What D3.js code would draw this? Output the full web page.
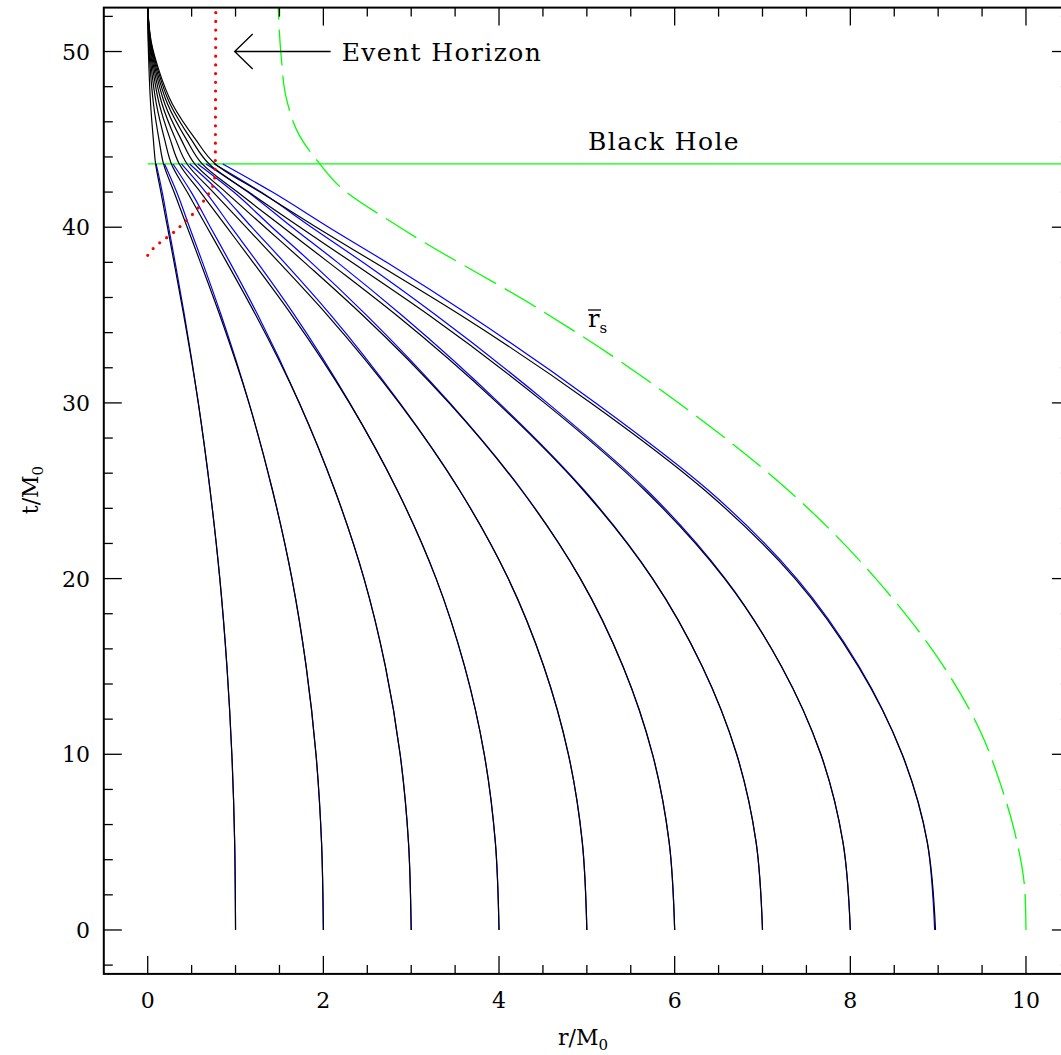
<!DOCTYPE html>
<html>
<head>
<meta charset="utf-8">
<script src="https://cdn.jsdelivr.net/npm/d3@7"></script>
<style>
  body { margin: 0; background: #fff; }
  svg { display: block; }
  text { font-family: "DejaVu Serif", serif; fill: #000; }
</style>
</head>
<body>
<div id="chart"></div>
<script>
// shell trajectories r(t), r in M0, t in M0
const tLevels = [0, 5, 10, 15, 20, 25, 30, 35, 38, 40, 42, 43.6, 45, 47, 49, 50.5, 52.5];

const blackShells = [
  [1.00, 0.99, 0.958, 0.902, 0.821, 0.711, 0.576, 0.41, 0.30, 0.225, 0.15, 0.09, 0.064, 0.033, 0.0145, 0.005, 0],
  [2.00, 1.979, 1.916, 1.804, 1.642, 1.422, 1.152, 0.82, 0.60, 0.45, 0.30, 0.18, 0.128, 0.066, 0.029, 0.01, 0],
  [3.00, 2.969, 2.874, 2.706, 2.463, 2.133, 1.725, 1.23, 0.90, 0.675, 0.45, 0.27, 0.192, 0.099, 0.043, 0.015, 0],
  [4.00, 3.958, 3.832, 3.608, 3.284, 2.844, 2.296, 1.64, 1.20, 0.90, 0.60, 0.36, 0.256, 0.132, 0.058, 0.02, 0],
  [5.00, 4.948, 4.79, 4.51, 4.105, 3.553, 2.863, 2.045, 1.495, 1.12, 0.745, 0.448, 0.318, 0.164, 0.072, 0.025, 0],
  [6.00, 5.937, 5.748, 5.412, 4.926, 4.26, 3.43, 2.445, 1.785, 1.335, 0.888, 0.535, 0.38, 0.196, 0.086, 0.03, 0],
  [7.00, 6.927, 6.706, 6.314, 5.747, 4.965, 3.98, 2.83, 2.06, 1.54, 1.022, 0.62, 0.44, 0.227, 0.099, 0.034, 0],
  [8.00, 7.916, 7.664, 7.216, 6.568, 5.665, 4.518, 3.20, 2.325, 1.735, 1.15, 0.70, 0.495, 0.256, 0.112, 0.038, 0],
  [8.97, 8.876, 8.59, 8.09, 7.37, 6.35, 5.046, 3.56, 2.58, 1.92, 1.28, 0.77, 0.545, 0.282, 0.123, 0.042, 0]
];

// blue shells stop at the black hole time
const blueTLevels = [0, 5, 10, 15, 20, 25, 30, 35, 38, 40, 42, 43.6];
const blueShells = [
  [1.00, 0.99, 0.958, 0.902, 0.821, 0.711, 0.576, 0.418, 0.312, 0.238, 0.165, 0.096],
  [2.00, 1.979, 1.916, 1.804, 1.642, 1.422, 1.153, 0.836, 0.624, 0.476, 0.33, 0.192],
  [3.00, 2.969, 2.874, 2.706, 2.463, 2.133, 1.727, 1.254, 0.936, 0.714, 0.495, 0.288],
  [4.00, 3.958, 3.832, 3.608, 3.284, 2.844, 2.30, 1.672, 1.248, 0.952, 0.66, 0.384],
  [5.00, 4.948, 4.79, 4.51, 4.105, 3.555, 2.87, 2.085, 1.555, 1.185, 0.822, 0.478],
  [6.00, 5.937, 5.748, 5.412, 4.926, 4.265, 3.44, 2.49, 1.86, 1.415, 0.98, 0.57],
  [7.00, 6.927, 6.706, 6.314, 5.75, 4.975, 4.00, 2.89, 2.16, 1.645, 1.14, 0.665],
  [8.00, 7.916, 7.664, 7.216, 6.575, 5.69, 4.55, 3.28, 2.45, 1.865, 1.29, 0.758],
  [8.96, 8.876, 8.59, 8.10, 7.39, 6.39, 5.10, 3.66, 2.72, 2.06, 1.42, 0.855]
];

// surface radius r-bar_s (green dashed)
const surfaceR = [10.0, 9.99, 9.87, 9.71, 9.49, 8.94, 8.50, 8.29, 7.3, 6.045, 5.34, 4.47, 2.87, 2.19, 1.96, 1.73, 1.58, 1.52, 1.486];
const surfaceT = [0, 2.0, 5.6, 8.3, 11.2, 15.9, 18.76, 20, 25, 30, 32.5, 35.3, 40.0, 42.3, 43.6, 45.2, 47.3, 49.7, 52.5];

// horizon (red dotted)
const horizonR = [0, 0.08, 0.16, 0.24, 0.32, 0.40, 0.47, 0.54, 0.61, 0.68, 0.73, 0.76, 0.765, 0.77, 0.775];
const horizonT = [38.4, 38.9, 39.2, 39.5, 39.8, 40.2, 40.5, 40.9, 41.3, 41.8, 42.2, 42.6, 43.1, 43.6, 52.5];

const blackHoleT = 43.6;
const xMajor = [0, 2, 4, 6, 8, 10];
const yMajor = [0, 10, 20, 30, 40, 50];

const width = 1061, height = 1055;
const x = d3.scaleLinear().domain([-0.5, 10.5]).range([103.8, 1069.9]);
const y = d3.scaleLinear().domain([-2.5, 52.5]).range([973.9, 7.6]);

const svg = d3.select("#chart").append("svg")
  .attr("width", width).attr("height", height);

svg.append("defs").append("clipPath").attr("id", "plot")
  .append("rect")
  .attr("x", x(-0.5)).attr("y", y(52.5))
  .attr("width", x(10.5) - x(-0.5)).attr("height", y(-2.5) - y(52.5));

const line = d3.line().x((d) => x(d[0])).y((d) => y(d[1]));
const smooth = d3.line().curve(d3.curveMonotoneY).x((d) => x(d[0])).y((d) => y(d[1]));
const plot = svg.append("g").attr("clip-path", "url(#plot)");

// black hole line
plot.append("line")
  .attr("x1", x(0)).attr("x2", x(10.5))
  .attr("y1", y(blackHoleT)).attr("y2", y(blackHoleT))
  .attr("stroke", "#00ff00").attr("stroke-width", 1.3);

// blue shells
blueShells.forEach((rs) => {
  plot.append("path")
    .attr("d", smooth(rs.map((r, i) => [r, blueTLevels[i]])))
    .attr("fill", "none").attr("stroke", "#0000ff").attr("stroke-width", 1.2);
});

// black shells
blackShells.forEach((rs) => {
  plot.append("path")
    .attr("d", smooth(rs.map((r, i) => [r, tLevels[i]])))
    .attr("fill", "none").attr("stroke", "#000").attr("stroke-width", 1.2);
});

// surface
plot.append("path")
  .attr("d", smooth(surfaceR.map((r, i) => [r, surfaceT[i]])))
  .attr("fill", "none").attr("stroke", "#00ff00").attr("stroke-width", 1.3)
  .attr("stroke-dasharray", "36,10");

// horizon
plot.append("path")
  .attr("d", line(horizonR.map((r, i) => [r, horizonT[i]])))
  .attr("fill", "none").attr("stroke", "#ff0000").attr("stroke-width", 3.2)
  .attr("stroke-linecap", "round").attr("stroke-dasharray", "0,8.7");

// frame and ticks
const frame = svg.append("g").attr("stroke", "#000");
frame.append("rect")
  .attr("x", x(-0.5)).attr("y", y(52.5))
  .attr("width", x(10.5) - x(-0.5)).attr("height", y(-2.5) - y(52.5))
  .attr("fill", "none").attr("stroke-width", 2);

const xTicks = d3.range(0, 10.51, 0.5);
const yTicks = d3.range(-2, 52.1, 2);
xTicks.forEach((v) => {
  const len = xMajor.includes(v) ? 18 : 9;
  frame.append("line").attr("x1", x(v)).attr("x2", x(v))
    .attr("y1", y(-2.5)).attr("y2", y(-2.5) - len).attr("stroke-width", 1.3);
  frame.append("line").attr("x1", x(v)).attr("x2", x(v))
    .attr("y1", y(52.5)).attr("y2", y(52.5) + len).attr("stroke-width", 1.3);
});
yTicks.forEach((v) => {
  const len = yMajor.includes(v) ? 18 : 9;
  frame.append("line").attr("y1", y(v)).attr("y2", y(v))
    .attr("x1", x(-0.5)).attr("x2", x(-0.5) + len).attr("stroke-width", 1.3);
  frame.append("line").attr("y1", y(v)).attr("y2", y(v))
    .attr("x1", x(10.5)).attr("x2", x(10.5) - len).attr("stroke-width", 1.3);
});

svg.append("g").selectAll("text").data(xMajor).join("text")
  .attr("x", (d) => x(d)).attr("y", 1008)
  .attr("text-anchor", "middle").attr("font-size", 22)
  .text((d) => d);

svg.append("g").selectAll("text").data(yMajor).join("text")
  .attr("x", 90).attr("y", (d) => y(d) + 8)
  .attr("text-anchor", "end").attr("font-size", 22)
  .text((d) => d);

// axis titles
const xt = svg.append("text").attr("x", 583).attr("y", 1045)
  .attr("text-anchor", "middle").attr("font-size", 22);
xt.append("tspan").text("r/M");
xt.append("tspan").attr("font-size", 15).attr("dy", 5).text("0");

const yt = svg.append("text")
  .attr("transform", "translate(38,490) rotate(-90)")
  .attr("text-anchor", "middle").attr("font-size", 22);
yt.append("tspan").text("t/M");
yt.append("tspan").attr("font-size", 15).attr("dy", 5).text("0");

// annotations
const ann = svg.append("g");
const tipX = x(0.99), tipY = y(50);
ann.append("path")
  .attr("d", `M${tipX + 96},${tipY}H${tipX}M${tipX + 18},${tipY - 17.5}L${tipX},${tipY}L${tipX + 18},${tipY + 17.5}`)
  .attr("fill", "none").attr("stroke", "#000").attr("stroke-width", 1.3);
ann.append("text").attr("x", tipX + 107).attr("y", tipY + 9)
  .attr("font-size", 25).attr("letter-spacing", 1.4).text("Event Horizon");

ann.append("text").attr("x", 588).attr("y", y(blackHoleT) - 14)
  .attr("font-size", 25).attr("letter-spacing", 1.4).text("Black Hole");

const rs = ann.append("text").attr("x", 588).attr("y", 327).attr("font-size", 24);
rs.append("tspan").text("r");
rs.append("tspan").attr("font-size", 15).attr("dy", 6).text("s");
ann.append("line").attr("x1", 588).attr("x2", 601).attr("y1", 310).attr("y2", 310)
  .attr("stroke", "#000").attr("stroke-width", 1.3);
</script>
</body>
</html>
